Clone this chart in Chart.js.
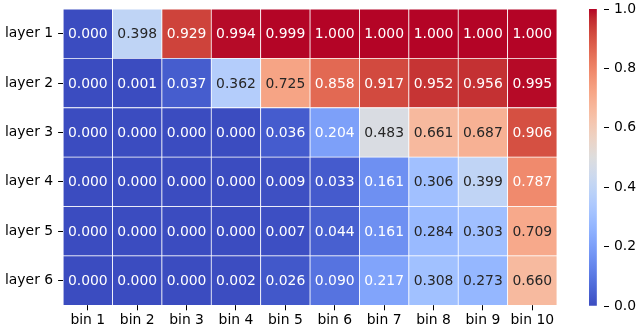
<!DOCTYPE html>
<html>
<head>
<meta charset="utf-8">
<script src="https://cdn.jsdelivr.net/npm/chart.js@4.4.1/dist/chart.umd.min.js"></script>
<style>
  html, body { margin: 0; padding: 0; background: #fff; }
  #wrap { position: relative; width: 640px; height: 334px; overflow: hidden; }
  #heat { position: absolute; left: 0; top: 0; }
  #cbar { position: absolute; left: 560px; top: 0; }
</style>
</head>
<body>
<div id="wrap">
  <canvas id="heat" width="585" height="334"></canvas>
  <canvas id="cbar" width="80" height="334"></canvas>
</div>
<script>
// Heatmap data (rows = layers, columns = bins)
const bins = ['bin 1', 'bin 2', 'bin 3', 'bin 4', 'bin 5', 'bin 6', 'bin 7', 'bin 8', 'bin 9', 'bin 10'];
const layers = ['layer 1', 'layer 2', 'layer 3', 'layer 4', 'layer 5', 'layer 6'];

const layer1 = [0.000, 0.398, 0.929, 0.994, 0.999, 1.000, 1.000, 1.000, 1.000, 1.000];
const layer2 = [0.000, 0.001, 0.037, 0.362, 0.725, 0.858, 0.917, 0.952, 0.956, 0.995];
const layer3 = [0.000, 0.000, 0.000, 0.000, 0.036, 0.204, 0.483, 0.661, 0.687, 0.906];
const layer4 = [0.000, 0.000, 0.000, 0.000, 0.009, 0.033, 0.161, 0.306, 0.399, 0.787];
const layer5 = [0.000, 0.000, 0.000, 0.000, 0.007, 0.044, 0.161, 0.284, 0.303, 0.709];
const layer6 = [0.000, 0.000, 0.000, 0.002, 0.026, 0.090, 0.217, 0.308, 0.273, 0.660];

const rows = [layer1, layer2, layer3, layer4, layer5, layer6];
const colorbarTicks = [0.0, 0.2, 0.4, 0.6, 0.8, 1.0];

// coolwarm (Moreland) control points
const coolwarm = [
  [59, 76, 192], [68, 90, 204], [77, 104, 215], [87, 117, 225], [98, 130, 234],
  [108, 142, 241], [119, 154, 247], [130, 165, 251], [141, 176, 254], [152, 185, 255],
  [163, 194, 255], [174, 201, 253], [184, 208, 249], [194, 213, 244], [204, 217, 238],
  [213, 219, 230], [221, 221, 221], [229, 216, 209], [236, 211, 197], [241, 204, 185],
  [245, 196, 173], [247, 187, 160], [247, 177, 148], [247, 166, 135], [244, 154, 123],
  [241, 141, 111], [236, 127, 99], [229, 112, 88], [222, 96, 77], [213, 80, 66],
  [203, 62, 56], [192, 40, 47], [180, 4, 38]
];

function cmap(v) {
  const t = Math.min(1, Math.max(0, v)) * (coolwarm.length - 1);
  const i = Math.min(coolwarm.length - 2, Math.floor(t));
  const f = t - i;
  const a = coolwarm[i], b = coolwarm[i + 1];
  return a.map((c, k) => Math.round(c + (b[k] - c) * f));
}

function rgbStr(c) {
  return `rgb(${c[0]}, ${c[1]}, ${c[2]})`;
}

// same rule seaborn uses for annotation colour
function textColor(v) {
  const lin = cmap(v).map(c => {
    c = c / 255;
    return c <= 0.03928 ? c / 12.92 : Math.pow((c + 0.055) / 1.055, 2.4);
  });
  const lum = 0.2126 * lin[0] + 0.7152 * lin[1] + 0.0722 * lin[2];
  return lum > 0.408 ? '#262626' : '#ffffff';
}

const font = { family: 'DejaVu Sans', size: 13.9 };

// drop the half-label padding chart.js reserves above/below vertical axes
function noVPad(axis) {
  axis.paddingTop = 0;
  axis.paddingBottom = 0;
}

// bottom row first so stacking puts layer 1 on top
const datasets = rows.slice().reverse().map(vals => ({
  data: bins.map(() => 1),
  values: vals,
  backgroundColor: vals.map(v => rgbStr(cmap(v))),
  borderColor: '#ffffff',
  borderWidth: 0.75,
  borderSkipped: false,
  barPercentage: 1,
  categoryPercentage: 1
}));

const annotate = {
  id: 'annotate',
  afterDatasetsDraw(chart) {
    const ctx = chart.ctx;
    ctx.save();
    ctx.font = `${font.size}px ${font.family}`;
    ctx.textAlign = 'center';
    ctx.textBaseline = 'middle';
    chart.data.datasets.forEach((ds, di) => {
      const meta = chart.getDatasetMeta(di);
      meta.data.forEach((bar, j) => {
        const p = bar.getProps(['x', 'y', 'base'], true);
        const v = ds.values[j];
        ctx.fillStyle = textColor(v);
        ctx.fillText(v.toFixed(3), p.x, (p.y + p.base) / 2 + 1);
      });
    });
    ctx.restore();
  }
};

new Chart(document.getElementById('heat'), {
  type: 'bar',
  data: { labels: bins, datasets },
  options: {
    responsive: false,
    animation: false,
    events: [],
    devicePixelRatio: 1,
    layout: { padding: { left: 0, top: 9, right: 28, bottom: 3 } },
    plugins: { legend: { display: false }, tooltip: { enabled: false } },
    scales: {
      x: {
        stacked: true,
        offset: true,
        border: { display: false },
        grid: { offset: false, drawOnChartArea: false, tickLength: 5, tickColor: '#000', tickWidth: 1 },
        ticks: { color: '#000', font, padding: 2, maxRotation: 0, autoSkip: false }
      },
      y: {
        type: 'linear',
        stacked: true,
        min: 0,
        max: 6,
        afterBuildTicks: axis => {
          axis.ticks = layers.map((_, i) => ({ value: 5.5 - i }));
        },
        afterFit: noVPad,
        border: { display: false },
        grid: { drawOnChartArea: false, tickLength: 5, tickColor: '#000', tickWidth: 1 },
        ticks: {
          color: '#000',
          font,
          padding: 5,
          callback: v => layers[Math.round(5.5 - v)]
        }
      }
    }
  },
  plugins: [annotate]
});

// colour bar
new Chart(document.getElementById('cbar'), {
  type: 'bar',
  data: {
    labels: [''],
    datasets: [{
      data: [1],
      barPercentage: 1,
      categoryPercentage: 1,
      borderWidth: 0,
      backgroundColor: ctx => {
        const area = ctx.chart.chartArea;
        if (!area) return null;
        const g = ctx.chart.ctx.createLinearGradient(0, area.bottom, 0, area.top);
        coolwarm.forEach((c, i) => g.addColorStop(i / (coolwarm.length - 1), rgbStr(c)));
        return g;
      }
    }]
  },
  options: {
    responsive: false,
    animation: false,
    events: [],
    devicePixelRatio: 1,
    layout: { padding: { left: 29, top: 9, right: 4, bottom: 28 } },
    plugins: { legend: { display: false }, tooltip: { enabled: false } },
    scales: {
      x: { display: false, offset: false },
      y: {
        position: 'right',
        min: 0,
        max: 1,
        afterBuildTicks: axis => {
          axis.ticks = colorbarTicks.map(v => ({ value: v }));
        },
        afterFit: axis => {
          noVPad(axis);
          axis.width = 32;
        },
        border: { display: false },
        grid: { drawOnChartArea: false, tickLength: 5, tickColor: '#000', tickWidth: 1 },
        ticks: { color: '#000', font, padding: 5, callback: v => v.toFixed(1) }
      }
    }
  }
});
</script>
</body>
</html>
